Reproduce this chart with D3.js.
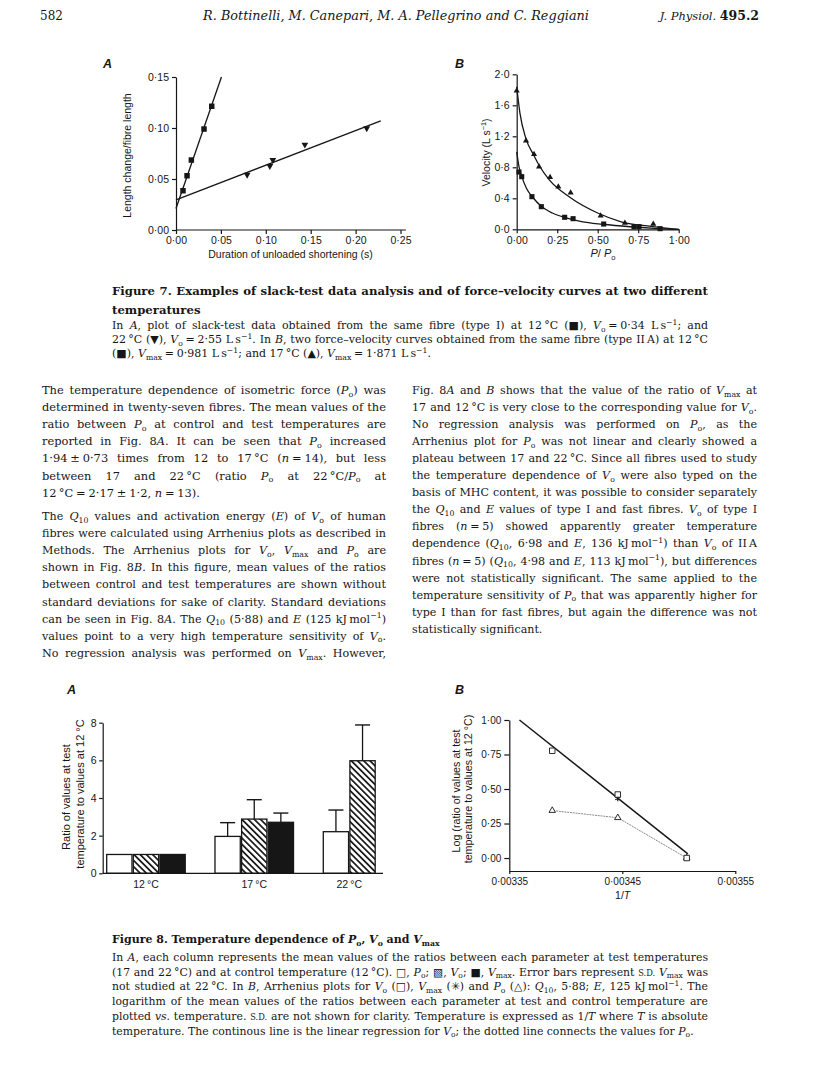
<!DOCTYPE html>
<html lang="en">
<head>
<meta charset="UTF-8">
<title>J. Physiol. 495.2, p. 582</title>
<script src="https://d3js.org/d3.v7.min.js"></script>
<style>
  body { margin: 0; background: #fff; }
  svg { display: block; background: #fff; }
  text { white-space: pre; }
  .serif { font-family: 'DejaVu Serif', serif; fill: #161616; }
  .sans { font-family: 'Liberation Sans', Arial, sans-serif; fill: #161616; }
  .axis path, .axis line { stroke: #161616; stroke-width: 1.2px; }
  .axis text { font-family: 'Liberation Sans', Arial, sans-serif; font-size: 10.5px; fill: #161616; }
  .axis.small text { font-size: 10px; }
</style>
</head>
<body>
<svg width="816" height="1071"></svg>
<script>
// ---------- data ----------
// Fig. 7A slack test: [duration (s), length change / fibre length]
const slack12 = [[0.0078, 0.0385], [0.0123, 0.0532], [0.0171, 0.0686], [0.0312, 0.099], [0.0398, 0.1213]];
const slack22 = [[0.0792, 0.0542], [0.1045, 0.0627], [0.1078, 0.0686], [0.1435, 0.0837], [0.2124, 0.0997]];
const slackFit12 = [[0, 0.021], [0.0506, 0.15]];
const slackFit22 = [[0, 0.0295], [0.228, 0.107]];
const slackXTicks = [0, 0.05, 0.1, 0.15, 0.2, 0.25];
const slackYTicks = [0, 0.05, 0.1, 0.15];

// Fig. 7B force-velocity: [P/Po, velocity (L/s)]
const fv12 = [[0.014, 0.739], [0.031, 0.679], [0.094, 0.421], [0.152, 0.292], [0.296, 0.155],
  [0.348, 0.137], [0.537, 0.068], [0.724, 0.034], [0.755, 0.034], [0.885, 0.008]];
const fv17 = [[0, 1.788], [0.0575, 1.143], [0.107, 0.968], [0.138, 0.808], [0.206, 0.671],
  [0.257, 0.55], [0.333, 0.472], [0.518, 0.176], [0.668, 0.081], [0.843, 0.068]];
const fvCurve12 = [[0, 1.0], [0.015, 0.8], [0.03, 0.69], [0.06, 0.53], [0.1, 0.41], [0.15, 0.3],
  [0.22, 0.21], [0.3, 0.15], [0.4, 0.1], [0.53, 0.065], [0.7, 0.033], [0.85, 0.013], [1, 0]];
const fvCurve17 = [[0, 1.84], [0.02, 1.5], [0.057, 1.17], [0.107, 0.95], [0.14, 0.82], [0.2, 0.64],
  [0.33, 0.41], [0.5, 0.21], [0.64, 0.1], [0.84, 0.035], [1, 0]];
const fvXTicks = [0, 0.25, 0.5, 0.75, 1];
const fvYTicks = [0, 0.4, 0.8, 1.2, 1.6, 2.0];

// Fig. 8A ratios to 12 degC
const temps = ['12 °C', '17 °C', '22 °C'];
const params = ['Po', 'Vo', 'Vmax'];
const ratioPo = [1.0, 1.96, 2.21];
const ratioVo = [1.0, 2.88, 5.98];
const ratioVmax = [1.0, 2.71, null];
const sdPo = [0, 0.73, 1.15];
const sdVo = [0, 1.03, 1.9];
const sdVmax = [0, 0.49, null];
const ratioYTicks = [0, 2, 4, 6, 8];

// Fig. 8B Arrhenius plot
const invT = [0.003507, 0.003446, 0.003388];   // 12, 17, 22 degC
const logVo = [0.0, 0.46, 0.777];
const logVmax = [0.0, 0.432, null];
const logPo = [0.0, 0.292, 0.344];
const voFit = [[0.003359, 1.0], [0.003508, 0.03]];
const arrXTicks = [0.00335, 0.00345, 0.00355];
const arrYTicks = [0, 0.25, 0.5, 0.75, 1];

// ---------- text ----------
const cap7Title = ['Figure 7. Examples of slack-test data analysis and of force–velocity curves at two different', 'temperatures'];
const cap7Body = [
  'In *A*, plot of slack-test data obtained from the same fibre (type I) at 12~°C (■), *V*_{o} = 0·34 L~s^{−1}; and',
  '22~°C (▼), *V*_{o} = 2·55 L~s^{−1}. In *B*, two force–velocity curves obtained from the same fibre (type II~A) at 12~°C',
  '(■), *V*_{max} = 0·981 L~s^{−1}; and 17~°C (▲), *V*_{max} = 1·871 L~s^{−1}.'
];
const leftPara1 = [
  'The temperature dependence of isometric force (*P*_{o}) was',
  'determined in twenty-seven fibres. The mean values of the',
  'ratio between *P*_{o} at control and test temperatures are',
  'reported in Fig. 8*A*. It can be seen that *P*_{o} increased',
  '1·94 ± 0·73 times from 12 to 17~°C (*n* = 14), but less',
  'between 17 and 22~°C (ratio *P*_{o} at 22~°C/*P*_{o} at',
  '12~°C = 2·17 ± 1·2, *n* = 13).'
];
const leftPara2 = [
  'The *Q*_{10} values and activation energy (*E*) of *V*_{o} of human',
  'fibres were calculated using Arrhenius plots as described in',
  'Methods. The Arrhenius plots for *V*_{o}, *V*_{max} and *P*_{o} are',
  'shown in Fig. 8*B*. In this figure, mean values of the ratios',
  'between control and test temperatures are shown without',
  'standard deviations for sake of clarity. Standard deviations',
  'can be seen in Fig. 8*A*. The *Q*_{10} (5·88) and *E* (125 kJ~mol^{−1})',
  'values point to a very high temperature sensitivity of *V*_{o}.',
  'No regression analysis was performed on *V*_{max}. However,'
];
const rightPara = [
  'Fig. 8*A* and *B* shows that the value of the ratio of *V*_{max} at',
  '17 and 12~°C is very close to the corresponding value for *V*_{o}.',
  'No regression analysis was performed on *P*_{o}, as the',
  'Arrhenius plot for *P*_{o} was not linear and clearly showed a',
  'plateau between 17 and 22~°C. Since all fibres used to study',
  'the temperature dependence of *V*_{o} were also typed on the',
  'basis of MHC content, it was possible to consider separately',
  'the *Q*_{10} and *E* values of type I and fast fibres. *V*_{o} of type I',
  'fibres (*n* = 5) showed apparently greater temperature',
  'dependence (*Q*_{10}, 6·98 and *E*, 136 kJ~mol^{−1}) than *V*_{o} of II~A',
  'fibres (*n* = 5) (*Q*_{10}, 4·98 and *E*, 113 kJ~mol^{−1}), but differences',
  'were not statistically significant. The same applied to the',
  'temperature sensitivity of *P*_{o} that was apparently higher for',
  'type I than for fast fibres, but again the difference was not',
  'statistically significant.'
];
const cap8Title = ['Figure 8. Temperature dependence of *P*_{o}, *V*_{o} and *V*_{max}'];
const cap8Body = [
  'In *A*, each column represents the mean values of the ratios between each parameter at test temperatures',
  '(17 and 22~°C) and at control temperature (12~°C). □, *P*_{o}; ▧, *V*_{o}; ■, *V*_{max}. Error bars represent %{s.d.} *V*_{max} was',
  'not studied at 22~°C. In *B*, Arrhenius plots for *V*_{o} (□), *V*_{max} (✳) and *P*_{o} (△): *Q*_{10}, 5·88; *E*, 125 kJ~mol^{−1}. The',
  'logarithm of the mean values of the ratios between each parameter at test and control temperature are',
  'plotted *vs.* temperature. %{s.d.} are not shown for clarity. Temperature is expressed as 1/*T* where *T* is absolute',
  'temperature. The continous line is the linear regression for *V*_{o}; the dotted line connects the values for *P*_{o}.'
];

// ---------- helpers ----------
const ink = '#161616';
const svg = d3.select('svg');
const TOKEN = /(\*[^*]+\*|_\{[^}]*\}|\^\{[^}]*\}|%\{[^}]*\})/;
const dot = (n) => (v) => d3.format(`.${n}f`)(v).replace('.', '·');

// tiny markup: *italic*, _{sub}, ^{sup}, %{small caps}, ~ thin space
function rich(textSel, str, size) {
  const src = str.replace(/ = /g, '\u2005=\u2005').replace(/ ± /g, '\u2005±\u2005').replace(/~/g, '\u2009');
  let shift = 0;
  src.split(TOKEN).filter((p) => p.length).forEach((part) => {
    let txt = part, italic = false, fs = null, target = 0;
    if (/^\*[^*]+\*$/.test(part)) { txt = part.slice(1, -1); italic = true; }
    else if (part.startsWith('_{')) { txt = part.slice(2, -1); fs = size * 0.7; target = size * 0.25; }
    else if (part.startsWith('^{')) { txt = part.slice(2, -1); fs = size * 0.7; target = -size * 0.4; }
    else if (part.startsWith('%{')) { txt = part.slice(2, -1).toUpperCase(); fs = size * 0.76; }
    const t = textSel.append('tspan').text(txt);
    if (italic) t.attr('font-style', 'italic');
    if (fs) t.attr('font-size', fs);
    if (target !== shift) { t.attr('dy', target - shift); shift = target; }
  });
  return (src.match(/ /g) || []).length;
}

// justified block: the size is set so the tightest line just fills the measure
function block(lines, o) {
  const draw = (s) => {
    const grp = svg.append('g').attr('class', 'serif').attr('font-size', s)
      .attr('font-weight', o.weight || null);
    const rows = lines.map((line, i) => {
      const t = grp.append('text').attr('x', o.x).attr('y', o.y + i * o.lead);
      const spaces = rich(t, line, s);
      const justify = !o.noJustify && (o.justifyAll || i < lines.length - 1);
      return { t, spaces, justify };
    });
    return { grp, rows };
  };
  let { grp, rows } = draw(o.size);
  if (o.noJustify) return;
  const maxR = d3.max(rows.filter((r) => r.justify), (r) => r.t.node().getComputedTextLength() / o.w);
  if (maxR) {
    grp.remove();
    const s = Math.max(o.size * 0.85, Math.min(o.size * 1.25, (o.size / maxR) * (o.fill || 0.99)));
    ({ grp, rows } = draw(s));
  }
  rows.filter((r) => r.justify && r.spaces).forEach((r) => {
    const nat = r.t.node().getComputedTextLength();
    r.t.style('word-spacing', `${(o.w - nat) / r.spaces}px`);
  });
}

function sansText(x, y, str, size, anchor, rotate) {
  const t = svg.append('text').attr('class', 'sans').attr('font-size', size)
    .attr('text-anchor', anchor || 'middle')
    .attr('transform', `translate(${x},${y})${rotate ? ' rotate(-90)' : ''}`);
  rich(t, str, size);
  return t;
}

function panelLabel(x, y, s) {
  svg.append('text').attr('class', 'sans').attr('x', x).attr('y', y)
    .attr('font-size', 12.5).attr('font-style', 'italic').attr('font-weight', 700).text(s);
}

const defs = svg.append('defs');
const hatch = defs.append('pattern').attr('id', 'hatch').attr('patternUnits', 'userSpaceOnUse')
  .attr('width', 4.4).attr('height', 4.4).attr('patternTransform', 'rotate(-45)');
hatch.append('rect').attr('width', 4.4).attr('height', 4.4).attr('fill', '#fff');
hatch.append('rect').attr('width', 1.7).attr('height', 4.4).attr('fill', ink);

// ---------- running head ----------
svg.append('text').attr('class', 'serif').attr('x', 40).attr('y', 20).attr('font-size', 12).text('582');
svg.append('text').attr('class', 'serif').attr('x', 396).attr('y', 20).attr('font-size', 12.8)
  .attr('font-style', 'italic').attr('text-anchor', 'middle')
  .text('R. Bottinelli, M. Canepari, M. A. Pellegrino and C. Reggiani');
const jp = svg.append('text').attr('class', 'serif').attr('x', 759).attr('y', 20).attr('text-anchor', 'end');
jp.append('tspan').attr('font-size', 11.5).attr('font-style', 'italic').text('J. Physiol. ');
jp.append('tspan').attr('font-size', 12.5).attr('font-weight', 700).text('495.2');

// ---------- Fig. 7A ----------
const xA = d3.scaleLinear().domain([0, 0.25]).range([176, 400.5]);
const yA = d3.scaleLinear().domain([0, 0.15]).range([230, 77]);
const axA = svg.append('g').attr('class', 'axis').attr('transform', `translate(0,${yA(0)})`)
  .call(d3.axisBottom(xA).tickValues(slackXTicks).tickFormat(dot(2)).tickSize(4).tickSizeOuter(0).tickPadding(3));
axA.select('.domain').attr('d', `M${xA(0)},0H${xA(0.256)}`);
svg.append('g').attr('class', 'axis').attr('transform', `translate(${xA(0)},0)`)
  .call(d3.axisLeft(yA).tickValues(slackYTicks).tickFormat(dot(2)).tickSize(4).tickSizeOuter(0).tickPadding(3));

const lineA = d3.line().x((d) => xA(d[0])).y((d) => yA(d[1]));
[slackFit12, slackFit22].forEach((f) => {
  svg.append('path').attr('d', lineA(f)).attr('fill', 'none').attr('stroke', ink).attr('stroke-width', 1.3);
});
svg.append('g').selectAll('path').data(slack12).join('path')
  .attr('d', d3.symbol(d3.symbolSquare, 30)).attr('fill', ink)
  .attr('transform', (d) => `translate(${xA(d[0])},${yA(d[1])})`);
svg.append('g').selectAll('path').data(slack22).join('path')
  .attr('d', d3.symbol(d3.symbolTriangle, 20)).attr('fill', ink)
  .attr('transform', (d) => `translate(${xA(d[0])},${yA(d[1])}) rotate(180)`);

panelLabel(103, 68, 'A');
sansText(131, 155.5, 'Length change/fibre length', 10.5, 'middle', true);
sansText(290.5, 258, 'Duration of unloaded shortening (s)', 10.5);

// ---------- Fig. 7B ----------
const xB = d3.scaleLinear().domain([0, 1]).range([516.7, 678.7]);
const yB = d3.scaleLinear().domain([0, 2]).range([229.3, 74.3]);
svg.append('g').attr('class', 'axis').attr('transform', `translate(0,${yB(0)})`)
  .call(d3.axisBottom(xB).tickValues(fvXTicks).tickFormat(dot(2)).tickSize(4).tickSizeOuter(0).tickPadding(3));
svg.append('g').attr('class', 'axis').attr('transform', `translate(${xB(0)},0)`)
  .call(d3.axisLeft(yB).tickValues(fvYTicks).tickFormat(dot(1)).tickSize(4).tickSizeOuter(0).tickPadding(3));

const curveB = d3.line().x((d) => xB(d[0])).y((d) => yB(d[1])).curve(d3.curveMonotoneX);
[fvCurve12, fvCurve17].forEach((c) => {
  svg.append('path').attr('d', curveB(c)).attr('fill', 'none').attr('stroke', ink).attr('stroke-width', 1.3);
});
svg.append('g').selectAll('path').data(fv12).join('path')
  .attr('d', d3.symbol(d3.symbolSquare, 26)).attr('fill', ink)
  .attr('transform', (d) => `translate(${xB(d[0])},${yB(d[1])})`);
svg.append('g').selectAll('path').data(fv17).join('path')
  .attr('d', d3.symbol(d3.symbolTriangle, 16)).attr('fill', ink)
  .attr('transform', (d) => `translate(${xB(d[0])},${yB(d[1])})`);

panelLabel(455, 68, 'B');
sansText(490, 152.5, 'Velocity (L s^{−1})', 10.5, 'middle', true);
sansText(603, 257, '*P*/ *P*_{o}', 11);

// ---------- captions & body ----------
block(cap7Title, { x: 112, y: 295, lead: 18.5, w: 596, size: 11, weight: 700 });
block(cap7Body, { x: 112, y: 329, lead: 14.2, w: 596, size: 10.8 });
block(leftPara1, { x: 42, y: 394, lead: 17.1, w: 344, size: 11 });
block(leftPara2, { x: 42, y: 520, lead: 17.1, w: 344, size: 11, justifyAll: true });
block(rightPara, { x: 412, y: 394, lead: 17.05, w: 345, size: 11 });
block(cap8Title, { x: 112, y: 943, lead: 18, w: 596, size: 11, weight: 700, noJustify: true });
block(cap8Body, { x: 112, y: 961, lead: 14.7, w: 596, size: 10.8 });

// ---------- Fig. 8A ----------
const means = { Po: ratioPo, Vo: ratioVo, Vmax: ratioVmax };
const sds = { Po: sdPo, Vo: sdVo, Vmax: sdVmax };
const fills = { Po: '#fff', Vo: 'url(#hatch)', Vmax: ink };
const x8 = d3.scaleBand().domain(temps).range([106.7, 401.8]).paddingInner(0.275).paddingOuter(0);
const xs8 = d3.scaleBand().domain(params).range([0, x8.bandwidth()]).paddingInner(0.05);
const y8 = d3.scaleLinear().domain([0, 8]).range([873.3, 722.7]);

const bars = temps.flatMap((t, i) => params.map((p) => ({ t, p, v: means[p][i], sd: sds[p][i] })))
  .filter((d) => d.v != null);
const cx = (d) => x8(d.t) + xs8(d.p) + xs8.bandwidth() / 2;

svg.append('g').selectAll('line').data(bars.filter((d) => d.sd > 0)).join('line')
  .attr('x1', cx).attr('x2', cx).attr('y1', (d) => y8(d.v)).attr('y2', (d) => y8(d.v + d.sd))
  .attr('stroke', ink).attr('stroke-width', 1.3);
svg.append('g').selectAll('line').data(bars.filter((d) => d.sd > 0)).join('line')
  .attr('x1', (d) => cx(d) - 7.5).attr('x2', (d) => cx(d) + 7.5)
  .attr('y1', (d) => y8(d.v + d.sd)).attr('y2', (d) => y8(d.v + d.sd))
  .attr('stroke', ink).attr('stroke-width', 1.4);
svg.append('g').selectAll('rect').data(bars).join('rect')
  .attr('x', (d) => x8(d.t) + xs8(d.p)).attr('width', xs8.bandwidth())
  .attr('y', (d) => y8(d.v)).attr('height', (d) => y8(0) - y8(d.v))
  .attr('fill', (d) => fills[d.p]).attr('stroke', ink).attr('stroke-width', 1.3);

svg.append('g').attr('class', 'axis').attr('transform', 'translate(102.7,0)')
  .call(d3.axisLeft(y8).tickValues(ratioYTicks).tickFormat(d3.format('d')).tickSize(3.5).tickSizeOuter(0).tickPadding(2.5));
svg.append('line').attr('x1', 102.7).attr('x2', 383).attr('y1', y8(0)).attr('y2', y8(0))
  .attr('stroke', ink).attr('stroke-width', 1.3);
temps.forEach((t) => {
  const here = bars.filter((d) => d.t === t);
  sansText(d3.mean(here, cx), 888, t.replace(' ', '\u2009'), 10.5);
});

panelLabel(67, 694, 'A');
sansText(70, 797, 'Ratio of values at test', 11, 'middle', true);
sansText(83.5, 794, 'temperature to values at 12 °C', 11, 'middle', true);

// ---------- Fig. 8B ----------
const xR = d3.scaleLinear().domain([0.00335, 0.00355]).range([509.3, 735.3]);
const yR = d3.scaleLinear().domain([-0.094, 1]).range([871, 720]);
svg.append('g').attr('class', 'axis small').attr('transform', `translate(0,${yR(-0.094)})`)
  .call(d3.axisBottom(xR).tickValues(arrXTicks).tickFormat(dot(5)).tickSize(3).tickSizeOuter(0).tickPadding(4));
svg.append('g').attr('class', 'axis small').attr('transform', `translate(${xR(0.00335)},0)`)
  .call(d3.axisLeft(yR).tickValues(arrYTicks).tickFormat(dot(2)).tickSize(5).tickSizeOuter(0).tickPadding(3));

const lineR = d3.line().x((d) => xR(d[0])).y((d) => yR(d[1]));
const poPts = invT.map((x, i) => [x, logPo[i]]);
svg.append('path').attr('d', lineR(poPts)).attr('fill', 'none').attr('stroke', '#8a8a8a')
  .attr('stroke-width', 1).attr('stroke-dasharray', '2,0.8');
svg.append('path').attr('d', lineR(voFit)).attr('fill', 'none').attr('stroke', ink).attr('stroke-width', 1.5);

const vmaxPts = invT.map((x, i) => [x, logVmax[i]]).filter((d) => d[1] != null);
svg.append('g').selectAll('path').data(vmaxPts).join('path')
  .attr('d', d3.symbol(d3.symbolAsterisk || d3.symbolCross, 22))
  .attr('fill', ink).attr('stroke', ink).attr('stroke-width', 1.2)
  .attr('transform', (d) => `translate(${xR(d[0])},${yR(d[1])})`);
svg.append('g').selectAll('path').data(poPts).join('path')
  .attr('d', d3.symbol(d3.symbolTriangle, 18)).attr('fill', '#fff').attr('stroke', ink).attr('stroke-width', 0.9)
  .attr('transform', (d) => `translate(${xR(d[0])},${yR(d[1])})`);
svg.append('g').selectAll('path').data(invT.map((x, i) => [x, logVo[i]])).join('path')
  .attr('d', d3.symbol(d3.symbolSquare, 30)).attr('fill', '#fff').attr('stroke', ink).attr('stroke-width', 0.9)
  .attr('transform', (d) => `translate(${xR(d[0])},${yR(d[1])})`);

panelLabel(455, 694, 'B');
sansText(460, 791, 'Log (ratio of values at test', 10.7, 'middle', true);
sansText(472, 789, 'temperature to values at 12 °C)', 10.7, 'middle', true);
sansText(622.7, 899, '1/*T*', 10.5);
</script>
</body>
</html>
